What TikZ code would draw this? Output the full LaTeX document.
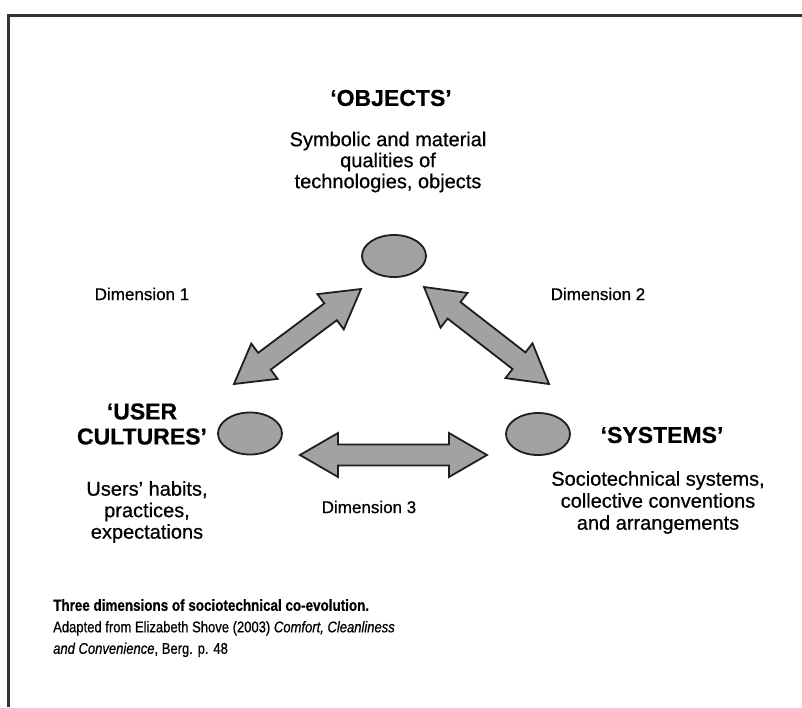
\documentclass[tikz,border=0pt]{standalone}
\usepackage{fontspec}
\setmainfont{Liberation Sans}[FakeBold=0.6]
\newfontfamily\capfont{Liberation Sans}[FakeStretch=0.84, FakeBold=0.6]
\usetikzlibrary{shapes.geometric,calc}
\definecolor{blobgray}{HTML}{A2A2A2}
\definecolor{edgegray}{HTML}{1E1E1E}
\newcommand\fatarrow[2]{%
  \draw[fatarrowsty] (#1)
    -- ($(#1)!38pt!(#2)!22pt!90:(#2)$)
    -- ($(#1)!38pt!(#2)!10.5pt!90:(#2)$)
    -- ($(#2)!38pt!(#1)!10.5pt!-90:(#1)$)
    -- ($(#2)!38pt!(#1)!22pt!-90:(#1)$)
    -- (#2)
    -- ($(#2)!38pt!(#1)!22pt!90:(#1)$)
    -- ($(#2)!38pt!(#1)!10.5pt!90:(#1)$)
    -- ($(#1)!38pt!(#2)!10.5pt!-90:(#2)$)
    -- ($(#1)!38pt!(#2)!22pt!-90:(#2)$)
    -- cycle;}
\begin{document}
\begin{tikzpicture}[x=1pt,y=-1pt,
  blob/.style={ellipse, draw=edgegray, line width=1.8pt, fill=blobgray,
    minimum width=64pt, minimum height=42pt, inner sep=0pt},
  fatarrowsty/.style={draw=edgegray, line width=1.8pt, fill=blobgray, line join=miter},
  headtxt/.style={font=\fontsize{23}{25}\selectfont\bfseries, align=center, inner sep=0pt},
  desctxt/.style={font=\fontsize{20}{21}\selectfont, align=center, inner sep=0pt},
  dimtxt/.style={font=\fontsize{17}{20}\selectfont, inner sep=0pt},
  captxt/.style={font=\capfont\fontsize{15.5}{21.5}\selectfont, align=left, inner sep=0pt, anchor=north west},
]
\useasboundingbox (0,0) rectangle (802,707);
\fill[white] (0,0) rectangle (802,707);
\draw[line width=3pt, black!80] (8,707) -- (8,15) -- (802,15);

% ellipses
\node[blob] (obj) at (394,256) {};
\node[blob] (usr) at (250,433.5) {};
\node[blob] (sys) at (538,434) {};

% arrow tips
\coordinate (d1a) at (234,384);
\coordinate (d1b) at (361,289);
\coordinate (d2a) at (424,287);
\coordinate (d2b) at (549,384);
\coordinate (d3a) at (300,455);
\coordinate (d3b) at (487,455);
\fatarrow{d1a}{d1b}
\fatarrow{d2a}{d2b}
\fatarrow{d3a}{d3b}

% texts
\node[headtxt] (objt) at (391,98) {`OBJECTS'};
\node[desctxt] (objd) at (388,162) {Symbolic and material\\qualities of\\technologies, objects};
\node[headtxt] (usrt) at (142,424) {`USER\\CULTURES'};
\node[desctxt, font=\fontsize{20}{21.5}\selectfont] (usrd) at (147,512) {Users' habits,\\practices,\\expectations};
\node[headtxt] (syst) at (662,435) {`SYSTEMS'};
\node[desctxt, font=\fontsize{20}{22}\selectfont] (sysd) at (658,502.5) {Sociotechnical systems,\\collective conventions\\and arrangements};
\node[dimtxt] (dim1) at (142,294) {Dimension 1};
\node[dimtxt] (dim2) at (598,294) {Dimension 2};
\node[dimtxt] (dim3) at (369,507) {Dimension 3};

\node[captxt] (cap) at (53,599) {{\fontsize{16}{21.5}\selectfont\bfseries Three dimensions of sociotechnical co-evolution.}\\
Adapted from Elizabeth Shove (2003) \textit{Comfort, Cleanliness}\\
\textit{and Convenience}, Berg. p. 48};
\end{tikzpicture}
\end{document}
